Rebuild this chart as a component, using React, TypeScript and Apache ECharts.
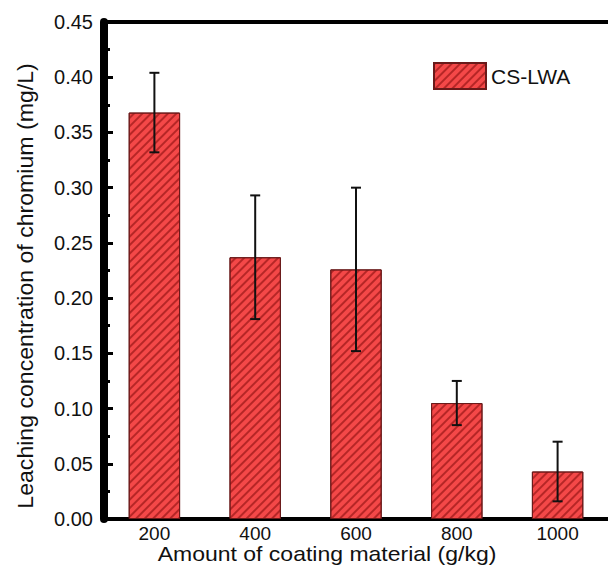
import React, { useEffect, useRef } from "react";
import * as echarts from "echarts";

const categories = ["200", "400", "600", "800", "1000"];
const values = [0.368, 0.237, 0.226, 0.105, 0.043];
const errors = [0.036, 0.056, 0.074, 0.020, 0.027];
const yTicks = { min: 0, max: 0.45, interval: 0.05 };
const seriesName = "CS-LWA";
const xTitle = "Amount of coating material (g/kg)";
const yTitle = "Leaching concentration of chromium (mg/L)";

const FONT = "'Liberation Sans', Arial, sans-serif";
const GRID = { left: 104, top: 22, bottom: 52 };
const H = 571;

export default function App() {
  const ref = useRef<HTMLDivElement>(null);
  useEffect(() => {
    if (!ref.current) return;
    const chart = echarts.init(ref.current, undefined, { renderer: "svg" });
    chart.setOption({
      animation: false,
      backgroundColor: "#ffffff",
      textStyle: { fontFamily: FONT },
      grid: { left: GRID.left, top: GRID.top, right: 0, bottom: GRID.bottom, containLabel: false },
      legend: {
        data: [seriesName],
        left: 428,
        top: 57,
        itemWidth: 52,
        itemHeight: 26,
        itemGap: 10,
        icon: "rect",
        textStyle: { fontSize: 21, color: "#111", fontFamily: FONT },
      },
      xAxis: [
        {
          type: "category",
          data: categories,
          axisLine: { show: true, onZero: false, lineStyle: { color: "#000", width: 4, opacity: 1 } },
          axisTick: { show: false },
          axisLabel: { fontSize: 19, color: "#111", margin: 5, fontFamily: FONT },
          splitLine: { show: false },
        },
        {
          type: "category",
          position: "top",
          data: categories,
          axisLine: { show: true, onZero: false, lineStyle: { color: "#000", width: 4, opacity: 1 } },
          axisTick: { show: false },
          axisLabel: { show: false },
        },
      ],
      yAxis: {
        type: "value",
        position: "left",
        min: yTicks.min,
        max: yTicks.max,
        interval: yTicks.interval,
        axisLine: { show: true, onZero: false, lineStyle: { color: "#000", width: 8, opacity: 1 } },
        axisTick: { show: true, inside: true, length: 9, lineStyle: { color: "#000", width: 3, opacity: 1 } },
        minorTick: { show: true, splitNumber: 2, length: 6, lineStyle: { color: "#000", width: 3, opacity: 1 } },
        axisLabel: {
          fontSize: 20,
          color: "#111",
          margin: 11,
          fontFamily: FONT,
          formatter: (v: number) => v.toFixed(2),
        },
        splitLine: { show: false },
      },
      graphic: [
        {
          type: "line",
          z: 100,
          shape: { x1: GRID.left, y1: GRID.top - 2, x2: GRID.left, y2: H - GRID.bottom + 2 },
          style: { stroke: "#000", lineWidth: 4 },
        },
        {
          type: "text",
          x: 327,
          y: 554,
          scaleX: 1.15,
          style: {
            text: xTitle,
            fontSize: 20,
            fontFamily: FONT,
            fill: "#111",
            align: "center",
            verticalAlign: "middle",
          },
        },
        {
          type: "text",
          x: 26,
          y: 286,
          rotation: Math.PI / 2,
          scaleX: 1.05,
          style: {
            text: yTitle,
            fontSize: 22,
            fontFamily: FONT,
            fill: "#111",
            align: "center",
            verticalAlign: "middle",
          },
        },
      ],
      series: [
        {
          name: seriesName,
          type: "bar",
          data: values,
          barWidth: "51%",
          itemStyle: {
            color: "#f44848",
            borderColor: "#6a1a1a",
            borderWidth: 1,
            decal: {
              symbol: "rect",
              symbolSize: 1,
              dashArrayX: [[1, 0]],
              dashArrayY: [1.2, 3.3],
              rotation: -Math.PI / 4,
              color: "rgba(130,10,10,0.55)",
            },
          },
        },
        {
          type: "custom",
          name: "error",
          data: categories.map((_, i) => [i, values[i], errors[i]]),
          renderItem: (params: any, api: any) => {
            const x = api.value(0);
            const y = api.value(1);
            const e = api.value(2);
            const top = api.coord([x, y + e]);
            const bot = api.coord([x, y - e]);
            const hw = 5;
            const style = { stroke: "#111", lineWidth: 2 };
            return {
              type: "group",
              children: [
                { type: "line", shape: { x1: top[0], y1: top[1], x2: bot[0], y2: bot[1] }, style },
                { type: "line", shape: { x1: top[0] - hw, y1: top[1], x2: top[0] + hw, y2: top[1] }, style },
                { type: "line", shape: { x1: bot[0] - hw, y1: bot[1], x2: bot[0] + hw, y2: bot[1] }, style },
              ],
            };
          },
          z: 10,
        },
      ],
    });
    return () => chart.dispose();
  }, []);
  return (
    <div
      ref={ref}
      style={{ position: "fixed", left: 0, top: 0, width: 608, height: 571 }}
    />
  );
}
